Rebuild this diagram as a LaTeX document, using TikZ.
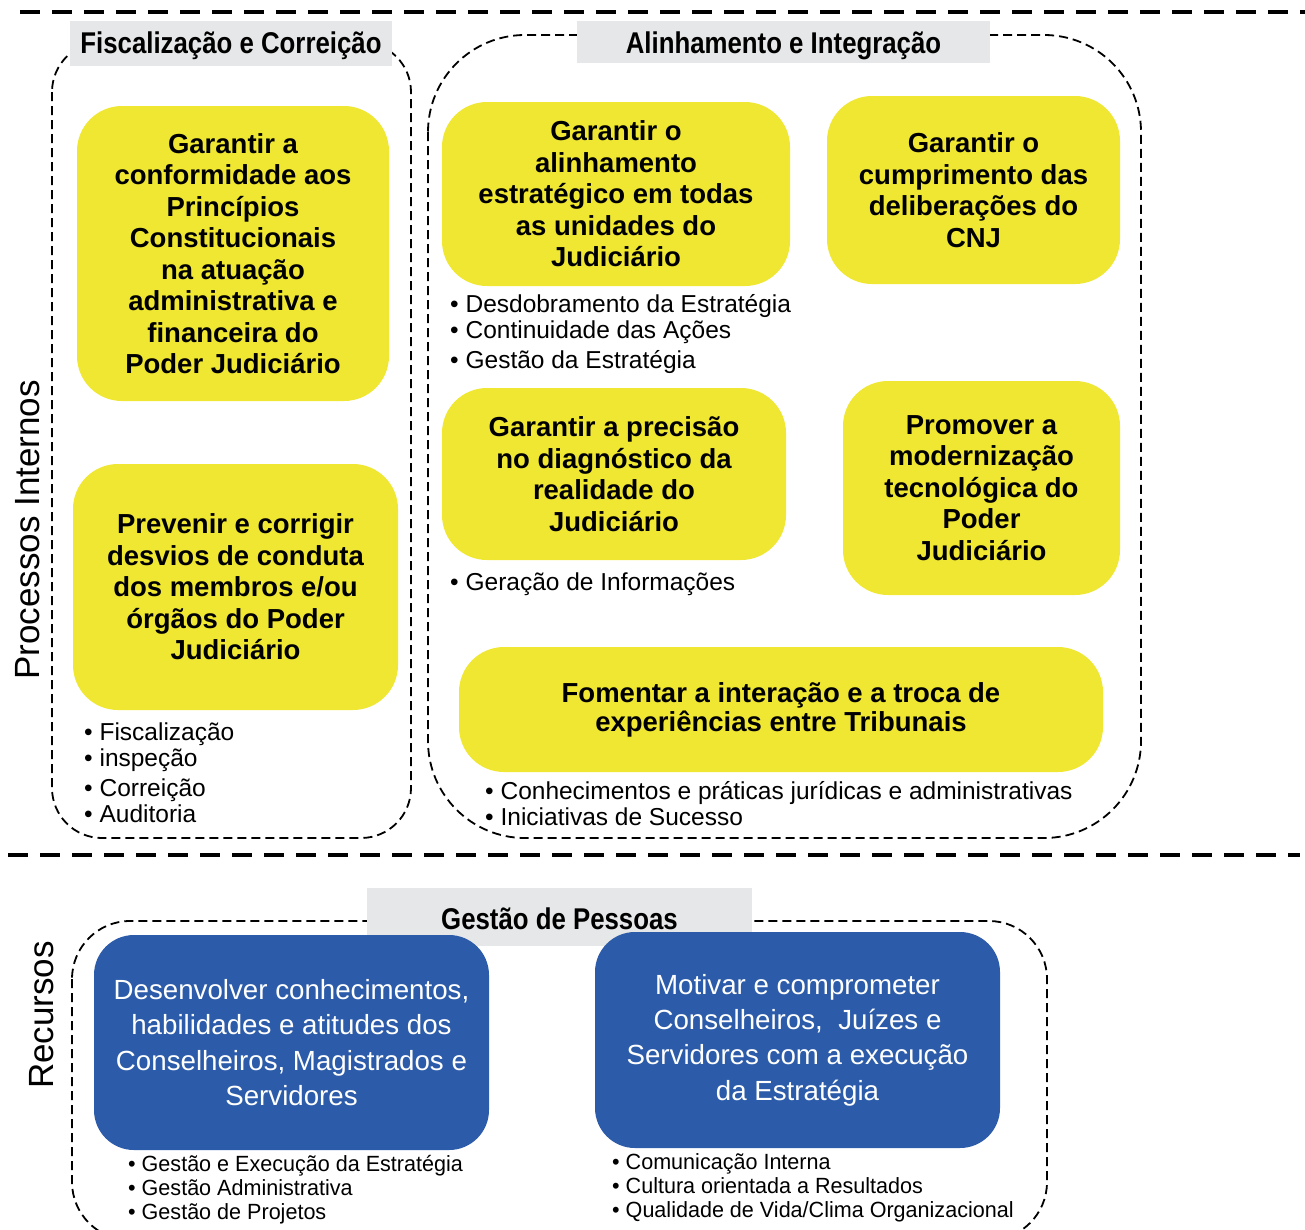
\documentclass[tikz,border=0pt]{standalone}
\usepackage{fontspec}
\setmainfont{Liberation Sans}
\newfontfamily\condfont[FakeStretch=0.86]{Liberation Sans}
\newfontfamily\narrowfont[FakeStretch=0.98]{Liberation Sans}
\definecolor{ylw}{RGB}{239,231,50}
\definecolor{blu}{RGB}{44,92,169}
\definecolor{hgray}{RGB}{230,231,232}
\begin{document}
\begin{tikzpicture}[x=1pt,y=-1pt,
  ybox/.style={fill=ylw, rounded corners=45pt, inner sep=0pt, align=center,
    font=\bfseries\fontsize{27.5}{31.5}\selectfont},
  bbox/.style={fill=blu, rounded corners=40pt, inner sep=0pt, text=white, align=center,
    font=\fontsize{27.7}{35.3}\selectfont},
  hdr/.style={fill=hgray, inner sep=0pt, font=\condfont\bfseries\fontsize{30}{34}\selectfont},
  grp/.style={line width=1.8pt, dash pattern=on 9pt off 5pt},
  sepline/.style={line width=3.2pt, dash pattern=on 20pt off 12pt},
  blist/.style={anchor=base west, align=left, inner sep=0pt, font=\fontsize{24.5}{26}\selectfont},
  nlist/.style={anchor=base west, align=left, inner sep=0pt, font=\narrowfont\fontsize{22}{23.8}\selectfont},
  side/.style={rotate=90, inner sep=0pt, font=\fontsize{35}{40}\selectfont}
]
\useasboundingbox (0,0) rectangle (1305,1229);

% separators
\draw[sepline] (20,12) -- (1305,12);
\draw[sepline] (8,855) -- (1300,855);

% side labels
\node[side] (pi) at (28,530) {Processos Internos};
\node[side] (rec) at (42,1015) {Recursos};

% group frames
\draw[grp, rounded corners=50pt] (52,42) rectangle (411,838);
\draw[grp, rounded corners=97pt] (428,35) rectangle (1141,838);
\draw[grp, rounded corners=58pt] (72,921) rectangle (1047,1240);

% headers
\node[hdr, minimum width=322pt, minimum height=45pt, text height=25pt, text depth=6pt] (h1) at (231,43.5) {Fiscalização e Correição};
\node[hdr, minimum width=413pt, minimum height=42pt, text height=28pt, text depth=6pt] (h2) at (783.5,42) {Alinhamento e Integração};
\node[hdr, minimum width=385pt, minimum height=58pt, text height=30pt, text depth=6pt] (h3) at (559.5,917) {Gestão de Pessoas};

% yellow boxes
\node[ybox, minimum width=312pt, minimum height=295pt] (y1) at (233,253.5)
  {Garantir a\\conformidade aos\\Princípios\\Constitucionais\\na atuação\\administrativa e\\financeira do\\Poder Judiciário};
\node[ybox, minimum width=325pt, minimum height=246pt] (y2) at (235.5,587)
  {Prevenir e corrigir\\desvios de conduta\\dos membros e/ou\\órgãos do Poder\\Judiciário};
\node[ybox, minimum width=348pt, minimum height=184pt] (y3) at (616,194)
  {Garantir o\\alinhamento\\estratégico em todas\\as unidades do\\Judiciário};
\node[ybox, minimum width=293pt, minimum height=188pt] (y4) at (973.5,190)
  {Garantir o\\cumprimento das\\deliberações do\\CNJ};
\node[ybox, minimum width=344pt, minimum height=172pt] (y5) at (614,474)
  {Garantir a precisão\\no diagnóstico da\\realidade do\\Judiciário};
\node[ybox, minimum width=277pt, minimum height=214pt] (y6) at (981.5,488)
  {Promover a\\modernização\\tecnológica do\\Poder\\Judiciário};
\node[ybox, minimum width=644pt, minimum height=125pt, font=\bfseries\fontsize{27.5}{29}\selectfont] (y7) at (781,709.5)
  {Fomentar a interação e a troca de\\experiências entre Tribunais};

% blue boxes
\node[bbox, minimum width=395pt, minimum height=215pt] (b1) at (291.5,1042.5)
  {Desenvolver conhecimentos,\\habilidades e atitudes dos\\Conselheiros, Magistrados e\\Servidores};
\node[bbox, minimum width=405pt, minimum height=216pt] (b2) at (797.5,1040)
  {Motivar e comprometer\\Conselheiros,\ \ Juízes e\\Servidores com a execução\\da Estratégia};

% bullet lists (anchored at the baseline of the last line)
\node[blist] (l1) at (84,822)
  {• Fiscalização\\• inspeção\\[4pt]• Correição\\• Auditoria};
\node[blist] (l2) at (450,368)
  {• Desdobramento da Estratégia\\• Continuidade das Ações\\[4pt]• Gestão da Estratégia};
\node[blist] (l3) at (450,590) {• Geração de Informações};
\node[blist] (l4) at (485,825)
  {• Conhecimentos e práticas jurídicas e administrativas\\• Iniciativas de Sucesso};
\node[nlist] (l5) at (128,1219)
  {• Gestão e Execução da Estratégia\\• Gestão Administrativa\\• Gestão de Projetos};
\node[nlist] (l6) at (612,1217)
  {• Comunicação Interna\\• Cultura orientada a Resultados\\• Qualidade de Vida/Clima Organizacional};
\end{tikzpicture}
\end{document}
